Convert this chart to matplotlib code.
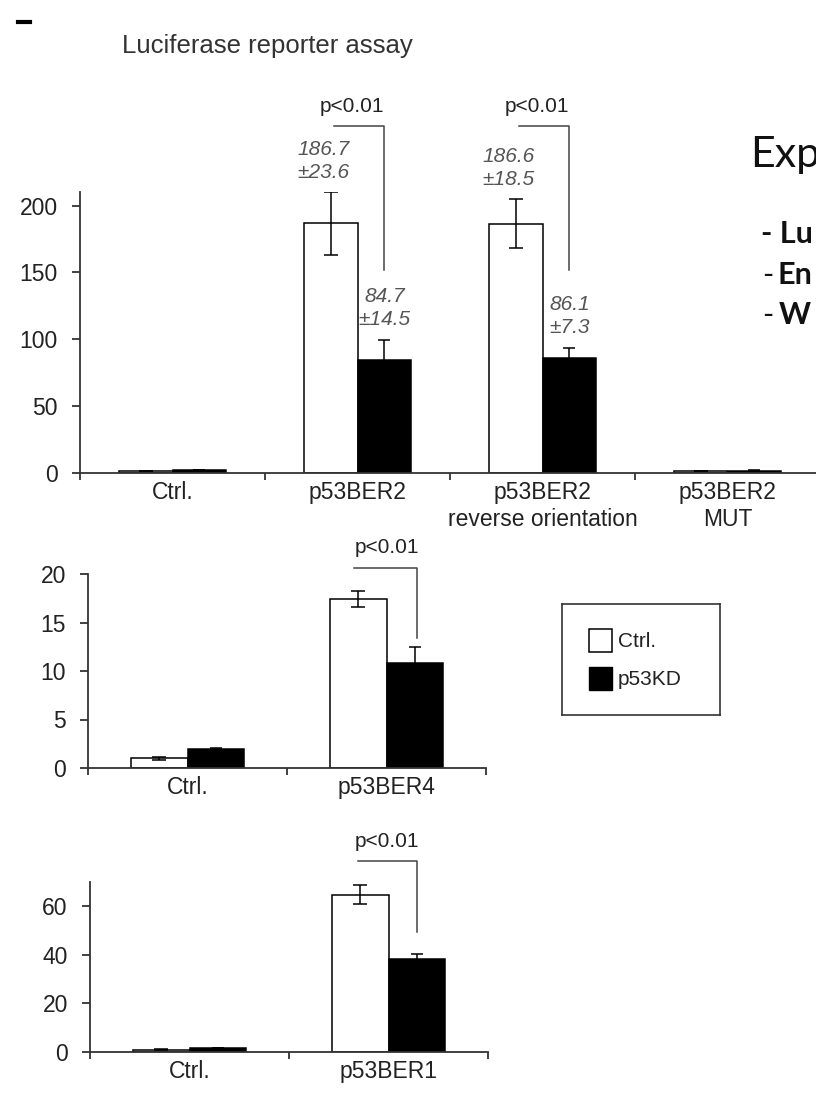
import matplotlib
matplotlib.use("Agg")
from matplotlib import pyplot as plt
from matplotlib.patches import Patch
from matplotlib.lines import Line2D
import numpy as np

plt.rcParams['font.family'] = ['Liberation Sans', 'DejaVu Sans']

# ---- data ----
top_cats = ["Ctrl.", "p53BER2", "p53BER2\nreverse orientation", "p53BER2\nMUT"]
top_ctrl = [1.0, 186.7, 186.6, 1.2]
top_ctrl_err = [0.1, 23.6, 18.5, 0.1]
top_kd = [2.2, 84.7, 86.1, 1.6]
top_kd_err = [0.1, 14.5, 7.3, 0.1]

mid_cats = ["Ctrl.", "p53BER4"]
mid_ctrl = [1.0, 17.4]
mid_ctrl_err = [0.15, 0.8]
mid_kd = [2.0, 10.8]
mid_kd_err = [0.1, 1.7]

bot_cats = ["Ctrl.", "p53BER1"]
bot_ctrl = [0.9, 64.7]
bot_ctrl_err = [0.1, 4.0]
bot_kd = [1.6, 38.2]
bot_kd_err = [0.1, 2.2]

W, H = 816, 1098
fig = plt.figure(figsize=(W / 100, H / 100), dpi=100)

TXT = "#222222"
AX = "#333333"


def fx(px):
    return px / W


def fy(px):
    return 1 - px / H


def panel(rect, cats, ctrl, ctrl_err, kd, kd_err, ylim, yticks, width):
    ax = fig.add_axes(rect)
    x = np.arange(len(cats))
    ax.bar(x - width / 2, ctrl, width, color="white", edgecolor="black", linewidth=1.1, zorder=2)
    ax.bar(x + width / 2, kd, width, color="black", edgecolor="black", linewidth=1.1, zorder=2)
    ax.errorbar(x - width / 2, ctrl, yerr=ctrl_err, fmt="none", ecolor="black",
                elinewidth=1.1, capsize=5, capthick=1.1, zorder=3)
    ax.errorbar(x + width / 2, kd, yerr=kd_err, fmt="none", ecolor="black",
                elinewidth=1.1, capsize=4, capthick=1.1, zorder=3)
    ax.set_xlim(-0.5, len(cats) - 0.5)
    ax.set_ylim(*ylim)
    ax.set_yticks(yticks)
    ax.set_xticks(np.arange(len(cats) + 1) - 0.5)
    ax.set_xticklabels([])
    ax.set_xticks(x, minor=True)
    ax.set_xticklabels(cats, minor=True, fontsize=16.5, color=TXT)
    ax.tick_params(axis="x", which="major", direction="out", length=5, width=1.3, color=AX)
    ax.tick_params(axis="x", which="minor", length=0, pad=6)
    ax.tick_params(axis="y", direction="out", length=6, width=1.3, color=AX,
                   labelsize=16.5, labelcolor=TXT, pad=10)
    for s in ["top", "right"]:
        ax.spines[s].set_visible(False)
    for s in ["left", "bottom"]:
        ax.spines[s].set_color(AX)
        ax.spines[s].set_linewidth(1.3)
    return ax


def bracket(ax, x0, x1, ytop, ybot, label_x, label_y):
    ax.plot([x0, x1, x1], [ytop, ytop, ybot], color="#444444", lw=1.1, clip_on=False)
    ax.text(label_x, label_y, "p<0.01", ha="center", va="center", fontsize=15, color=TXT)


# top panel
bw = 0.29
ax1 = panel([fx(80), fy(472.7), fx(740), 280.4 / H], top_cats, top_ctrl, top_ctrl_err,
            top_kd, top_kd_err, (0, 210), np.arange(0, 201, 50), bw)
for i in [1, 2]:
    ax1.text(i - bw / 2 - 0.04, top_ctrl[i] + top_ctrl_err[i] + 23,
             f"{top_ctrl[i]}\n±{top_ctrl_err[i]}", ha="center", va="center",
             fontsize=15, style="italic", color="#555555", linespacing=1.3)
    ax1.text(i + bw / 2, top_kd[i] + top_kd_err[i] + 24,
             f"{top_kd[i]}\n±{top_kd_err[i]}", ha="center", va="center",
             fontsize=15, style="italic", color="#555555", linespacing=1.3)
    bracket(ax1, i - bw / 2 + 0.02, i + bw / 2, 260, 151.6, i - 0.03, 274)

# middle panel
bw2 = 0.286
ax2 = panel([fx(88), fy(768), fx(398), 194 / H], mid_cats, mid_ctrl, mid_ctrl_err,
            mid_kd, mid_kd_err, (0, 20), np.arange(0, 21, 5), bw2)
bracket(ax2, 1 - bw2 / 2 - 0.02, 1 + bw2 / 2 + 0.01, 20.6, 13.4, 1.0, 22.7)

# bottom panel
ax3 = panel([fx(90), fy(1051.7), fx(398), 170 / H], bot_cats, bot_ctrl, bot_ctrl_err,
            bot_kd, bot_kd_err, (0, 70), np.arange(0, 61, 20), bw2)
bracket(ax3, 1 - bw2 / 2 - 0.01, 1 + bw2 / 2, 78.6, 49.1, 0.99, 86.4)

# legend in its own framed box
lax = fig.add_axes([fx(562), fy(715), fx(158), 111 / H])
lax.set_xticks([])
lax.set_yticks([])
for s in lax.spines.values():
    s.set_color("#333333")
    s.set_linewidth(1.2)
handles = [Patch(facecolor="white", edgecolor="black", linewidth=1.1, label="Ctrl."),
           Patch(facecolor="black", edgecolor="black", label="p53KD")]
lax.legend(handles=handles, loc="center left", bbox_to_anchor=(0.17, 0.5), frameon=False,
           fontsize=15, handlelength=1.1, handleheight=1.35, handletextpad=0.3,
           labelspacing=0.7, borderpad=0, borderaxespad=0, labelcolor=TXT)

# title and cropped slide text (cut off at the right edge, as in the source)
fig.text(fx(122), fy(46), "Luciferase reporter assay", fontsize=18.5, color="#333333",
         ha="left", va="center")
fig.add_artist(Line2D([fx(18), fx(30)], [fy(22), fy(22)], color="black", lw=3))

fig.text(fx(750), fy(167), "Exp", fontsize=31, family="Lato", color="#111111",
         ha="left", va="baseline")
fig.text(fx(761), fy(243), "- Lu", fontsize=22, family="Lato", weight="bold",
         color="#111111", ha="left", va="baseline")
for word, xw, yb in [("En", 777, 284), ("W", 779, 324)]:
    fig.text(fx(762), fy(yb), "-", fontsize=22, family="Lato", color="#111111",
             ha="left", va="baseline")
    fig.text(fx(xw), fy(yb), word, fontsize=22, family="Lato", weight="bold",
             color="#111111", ha="left", va="baseline")

fig.savefig("out.png", dpi=100)
